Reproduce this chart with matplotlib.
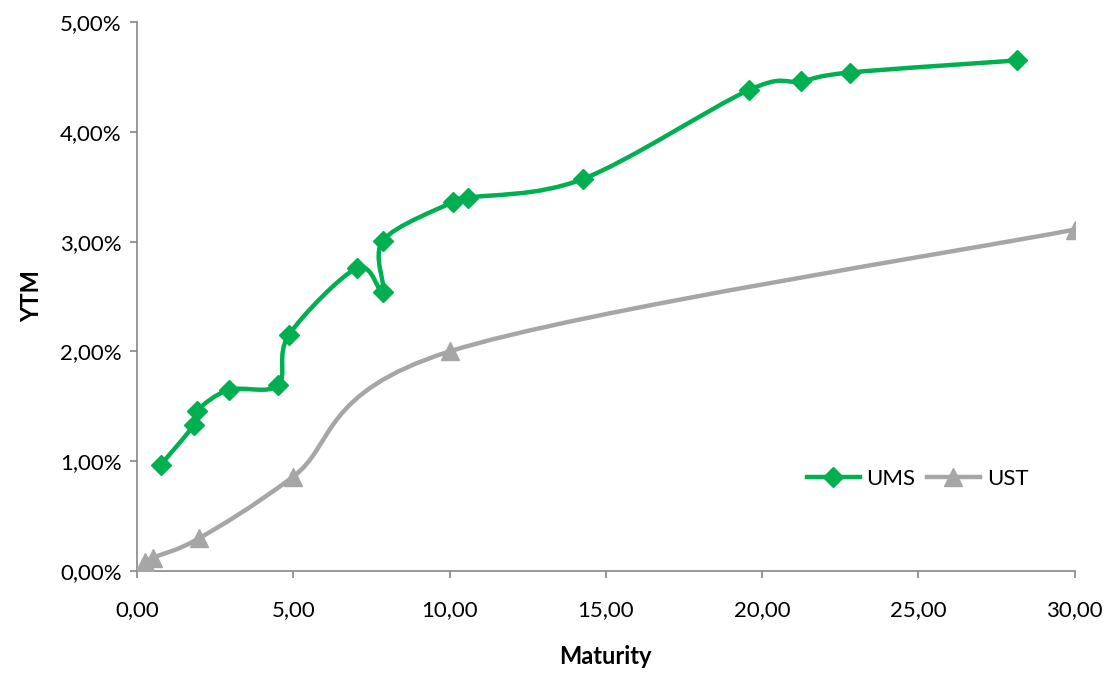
import numpy as np
import matplotlib
matplotlib.use('Agg')
import matplotlib.pyplot as plt
from matplotlib.path import Path
from matplotlib.patches import PathPatch
from matplotlib.ticker import FuncFormatter, MultipleLocator

plt.rcParams['font.family'] = ['Lato', 'DejaVu Sans']

# Maturity (years) and yield to maturity (%)
ums_maturity = [0.77, 1.82, 1.92, 2.94, 4.51, 4.86, 7.04, 7.87, 7.87, 10.1, 10.6, 14.26, 19.57, 21.23, 22.8, 28.14]
ums_ytm = [0.97, 1.33, 1.46, 1.65, 1.69, 2.15, 2.76, 2.54, 3.01, 3.36, 3.40, 3.57, 4.38, 4.46, 4.54, 4.65]

ust_maturity = [0.25, 0.5, 2.0, 5.0, 10.0, 30.0]
ust_ytm = [0.08, 0.12, 0.30, 0.86, 2.00, 3.11]

green = '#00B050'
grey = '#A6A6A6'


def smooth_path(xs, ys, k=1 / 6):
    # Excel-style smoothed line: cubic Bezier segments through the points
    pts = np.column_stack([xs, ys]).astype(float)
    n = len(pts)
    verts = [pts[0]]
    codes = [Path.MOVETO]
    for i in range(n - 1):
        p0 = pts[i - 1] if i > 0 else pts[i]
        p1 = pts[i]
        p2 = pts[i + 1]
        p3 = pts[i + 2] if i + 2 < n else pts[i + 1]
        c1 = p1 + (p2 - p0) * k
        c2 = p2 - (p3 - p1) * k
        verts += [c1, c2, p2]
        codes += [Path.CURVE4] * 3
    return Path(verts, codes)


fig = plt.figure(figsize=(11.08, 6.74), dpi=100)
ax = fig.add_axes([0.1236, 0.1528, 0.8464, 0.8145])

ax.add_patch(PathPatch(smooth_path(ums_maturity, ums_ytm), facecolor='none',
                       edgecolor=green, lw=3.2, capstyle='round', joinstyle='round', zorder=2))
ax.add_patch(PathPatch(smooth_path(ust_maturity, ust_ytm), facecolor='none',
                       edgecolor=grey, lw=3.2, capstyle='round', joinstyle='round', zorder=2))

ax.plot(ums_maturity, ums_ytm, ls='none', marker='D', ms=10, color=green, zorder=3)
ax.plot(ust_maturity, ust_ytm, ls='none', marker='^', ms=13, color=grey, zorder=3)

# legend proxies
ax.plot([], [], color=green, lw=3.2, marker='D', ms=10, label='UMS')
ax.plot([], [], color=grey, lw=3.2, marker='^', ms=13, label='UST')
ax.legend(loc='center', bbox_to_anchor=(0.828, 0.29), bbox_transform=fig.transFigure,
          ncol=2, frameon=False, fontsize=16, handlelength=2.4, columnspacing=0.5,
          handletextpad=0.3)

ax.set_xlim(0, 30)
ax.set_ylim(0, 5)
ax.xaxis.set_major_locator(MultipleLocator(5))
ax.yaxis.set_major_locator(MultipleLocator(1))
ax.xaxis.set_major_formatter(FuncFormatter(lambda v, p: f'{v:.2f}'.replace('.', ',')))
ax.yaxis.set_major_formatter(FuncFormatter(lambda v, p: f'{v:.2f}%'.replace('.', ',')))

for s in ['top', 'right']:
    ax.spines[s].set_visible(False)
for s in ['left', 'bottom']:
    ax.spines[s].set_color('#868686')
    ax.spines[s].set_linewidth(1.2)
ax.tick_params(colors='#868686', labelcolor='black', labelsize=16, length=5, width=1.2)
ax.tick_params(axis='x', pad=16)
ax.tick_params(axis='y', pad=6)

ax.set_xlabel('Maturity', fontsize=17, fontweight='bold', labelpad=18)
ax.set_ylabel('YTM', fontsize=17, fontweight='bold', labelpad=12)

fig.savefig('out.png', dpi=100)
